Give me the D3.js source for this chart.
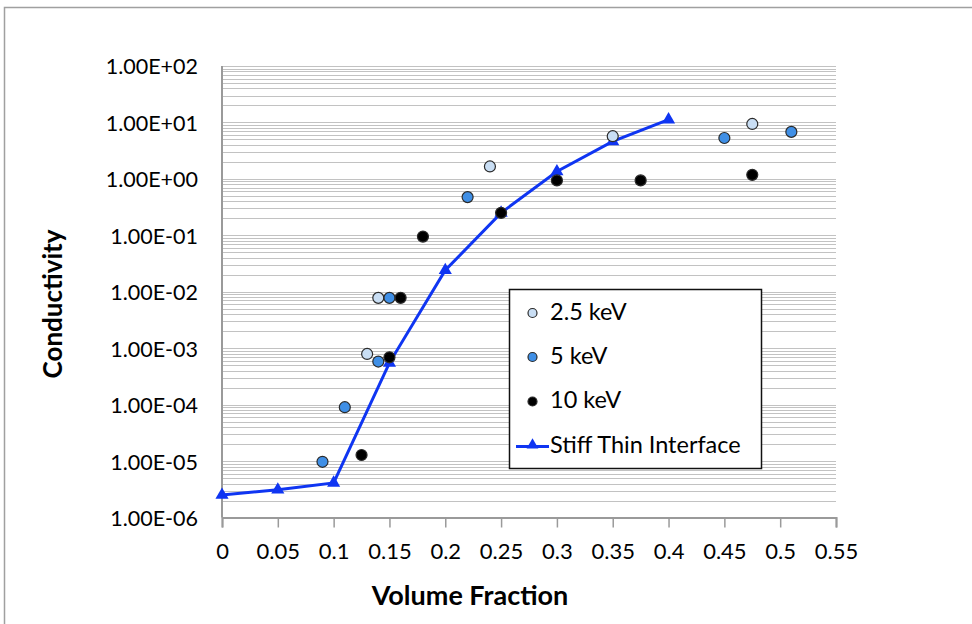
<!DOCTYPE html>
<html>
<head>
<meta charset="utf-8">
<script src="https://cdn.jsdelivr.net/npm/d3@7"></script>
<style>
  body { margin: 0; background: #fff; }
  text { font-family: Lato, "Open Sans", sans-serif; fill: #000; }
</style>
</head>
<body>
<div id="chart"></div>
<script>
// Axis ticks
const xTicks = [0, 0.05, 0.1, 0.15, 0.2, 0.25, 0.3, 0.35, 0.4, 0.45, 0.5, 0.55];
const xTickLabels = ["0", "0.05", "0.1", "0.15", "0.2", "0.25", "0.3", "0.35", "0.4", "0.45", "0.5", "0.55"];
const yTicks = [1e-6, 1e-5, 1e-4, 1e-3, 1e-2, 1e-1, 1e0, 1e1, 1e2];
const yTickLabels = ["1.00E-06", "1.00E-05", "1.00E-04", "1.00E-03", "1.00E-02", "1.00E-01", "1.00E+00", "1.00E+01", "1.00E+02"];

// Series
const seriesNames = ["2.5 keV", "5 keV", "10 keV", "Stiff Thin Interface"];

const kev25X = [0.13, 0.14, 0.24, 0.35, 0.475];
const kev25Y = [7.9e-4, 7.8e-3, 1.66, 5.7, 9.4];

const kev5X = [0.09, 0.11, 0.14, 0.15, 0.22, 0.45, 0.51];
const kev5Y = [9.7e-6, 9.0e-5, 5.8e-4, 7.8e-3, 0.475, 5.3, 6.8];

const kev10X = [0.125, 0.15, 0.16, 0.18, 0.25, 0.3, 0.375, 0.475];
const kev10Y = [1.28e-5, 6.9e-4, 7.8e-3, 0.095, 0.25, 0.94, 0.94, 1.18];

const stiffX = [0, 0.05, 0.1, 0.15, 0.2, 0.25, 0.3, 0.35, 0.4];
const stiffY = [2.5e-6, 3.1e-6, 4.1e-6, 5.5e-4, 2.4e-2, 0.25, 1.35, 4.6, 11.2];

const W = 972, H = 624;
const plot = { left: 222, right: 836, top: 66, bottom: 517.5 };

const svg = d3.select("#chart").append("svg")
  .attr("width", W).attr("height", H);

// Outer chart border (runs off the right/bottom edge of the shot)
svg.append("rect")
  .attr("x", 4.5).attr("y", 7.5)
  .attr("width", 1000).attr("height", 700)
  .attr("fill", "none").attr("stroke", "#a0a0a0").attr("stroke-width", 1.5);

const x = d3.scaleLinear().domain([0, 0.55]).range([plot.left, plot.right]);
const y = d3.scaleLog().domain([1e-6, 1e2]).range([plot.bottom, plot.top]);

// Gridlines: major and minor decades
const gridVals = [];
for (let e = -6; e < 2; e++) {
  for (let m = 1; m <= 9; m++) gridVals.push(m * Math.pow(10, e));
}
gridVals.push(100);

svg.append("g")
  .selectAll("line")
  .data(gridVals.filter(v => v > 1e-6))
  .enter().append("line")
  .attr("x1", plot.left).attr("x2", plot.right)
  .attr("y1", d => Math.round(y(d)) + 0.5)
  .attr("y2", d => Math.round(y(d)) + 0.5)
  .attr("stroke", "#c2c2c2")
  .attr("stroke-width", 1);

// Y axis line
svg.append("line")
  .attr("x1", plot.left).attr("x2", plot.left)
  .attr("y1", plot.top).attr("y2", plot.bottom)
  .attr("stroke", "#9a9a9a").attr("stroke-width", 2);

// Y tick labels
svg.append("g")
  .selectAll("text")
  .data(yTicks)
  .enter().append("text")
  .attr("x", 198)
  .attr("y", d => y(d) + 3)
  .attr("text-anchor", "end")
  .attr("dominant-baseline", "middle")
  .style("font-size", "21.5px")
  .text((d, i) => yTickLabels[i]);

// X axis
const xAxis = svg.append("g")
  .attr("transform", `translate(0,${plot.bottom})`)
  .call(d3.axisBottom(x).tickValues(xTicks).tickSize(10).tickFormat((d, i) => xTickLabels[i]));
xAxis.select(".domain").attr("stroke", "#9a9a9a").attr("stroke-width", 2);
xAxis.selectAll(".tick line").attr("stroke", "#9a9a9a").attr("stroke-width", 1.5);
xAxis.selectAll(".tick text")
  .attr("y", 26)
  .style("font-size", "22px")
  .style("font-family", "Lato, sans-serif")
  .attr("fill", "#000");

// Axis titles
svg.append("text")
  .attr("x", 470).attr("y", 605)
  .attr("text-anchor", "middle")
  .style("font-size", "27px").style("font-weight", "bold")
  .text("Volume Fraction");

svg.append("text")
  .attr("transform", "translate(62,304) rotate(-90)")
  .attr("text-anchor", "middle")
  .style("font-size", "26px").style("font-weight", "bold")
  .text("Conductivity");

// Stiff Thin Interface line + triangles
const lineColor = "#0f35f2";
const stiff = stiffX.map((v, i) => ({ x: v, y: stiffY[i] }));

svg.append("path")
  .datum(stiff)
  .attr("fill", "none")
  .attr("stroke", lineColor)
  .attr("stroke-width", 3)
  .attr("d", d3.line().x(d => x(d.x)).y(d => y(d.y)));

const tri = d3.symbol(d3.symbolTriangle, 75);
svg.append("g")
  .selectAll("path")
  .data(stiff)
  .enter().append("path")
  .attr("d", tri)
  .attr("transform", d => `translate(${x(d.x)},${y(d.y)})`)
  .attr("fill", lineColor);

// Scatter series
const scatterSeries = [
  { xs: kev25X, ys: kev25Y, fill: "#c9def4" },
  { xs: kev5X, ys: kev5Y, fill: "#3f8fe6" },
  { xs: kev10X, ys: kev10Y, fill: "#000000" }
];

scatterSeries.forEach(s => {
  svg.append("g")
    .selectAll("circle")
    .data(s.xs.map((v, i) => ({ x: v, y: s.ys[i] })))
    .enter().append("circle")
    .attr("cx", d => x(d.x))
    .attr("cy", d => y(d.y))
    .attr("r", 5.5)
    .attr("fill", s.fill)
    .attr("stroke", "#2a2a2a")
    .attr("stroke-width", 1.2);
});

// Legend
const legend = svg.append("g");
legend.append("rect")
  .attr("x", 509.5).attr("y", 289.5)
  .attr("width", 252).attr("height", 179)
  .attr("fill", "#fff")
  .attr("stroke", "#111").attr("stroke-width", 1.5);

const legendY = [313, 357, 401.5];
scatterSeries.forEach((s, i) => {
  legend.append("circle")
    .attr("cx", 532.5).attr("cy", legendY[i])
    .attr("r", 4.5)
    .attr("fill", s.fill)
    .attr("stroke", "#2a2a2a").attr("stroke-width", 1.2);
  legend.append("text")
    .attr("x", 550).attr("y", legendY[i] + 1)
    .attr("dominant-baseline", "middle")
    .style("font-size", "23.5px")
    .text(seriesNames[i]);
});

legend.append("line")
  .attr("x1", 516).attr("x2", 549)
  .attr("y1", 446.5).attr("y2", 446.5)
  .attr("stroke", lineColor).attr("stroke-width", 3);
legend.append("path")
  .attr("d", d3.symbol(d3.symbolTriangle, 60))
  .attr("transform", "translate(532.5,445)")
  .attr("fill", lineColor);
legend.append("text")
  .attr("x", 550).attr("y", 447.5)
  .attr("dominant-baseline", "middle")
  .style("font-size", "23.5px")
  .text(seriesNames[3]);
</script>
</body>
</html>
